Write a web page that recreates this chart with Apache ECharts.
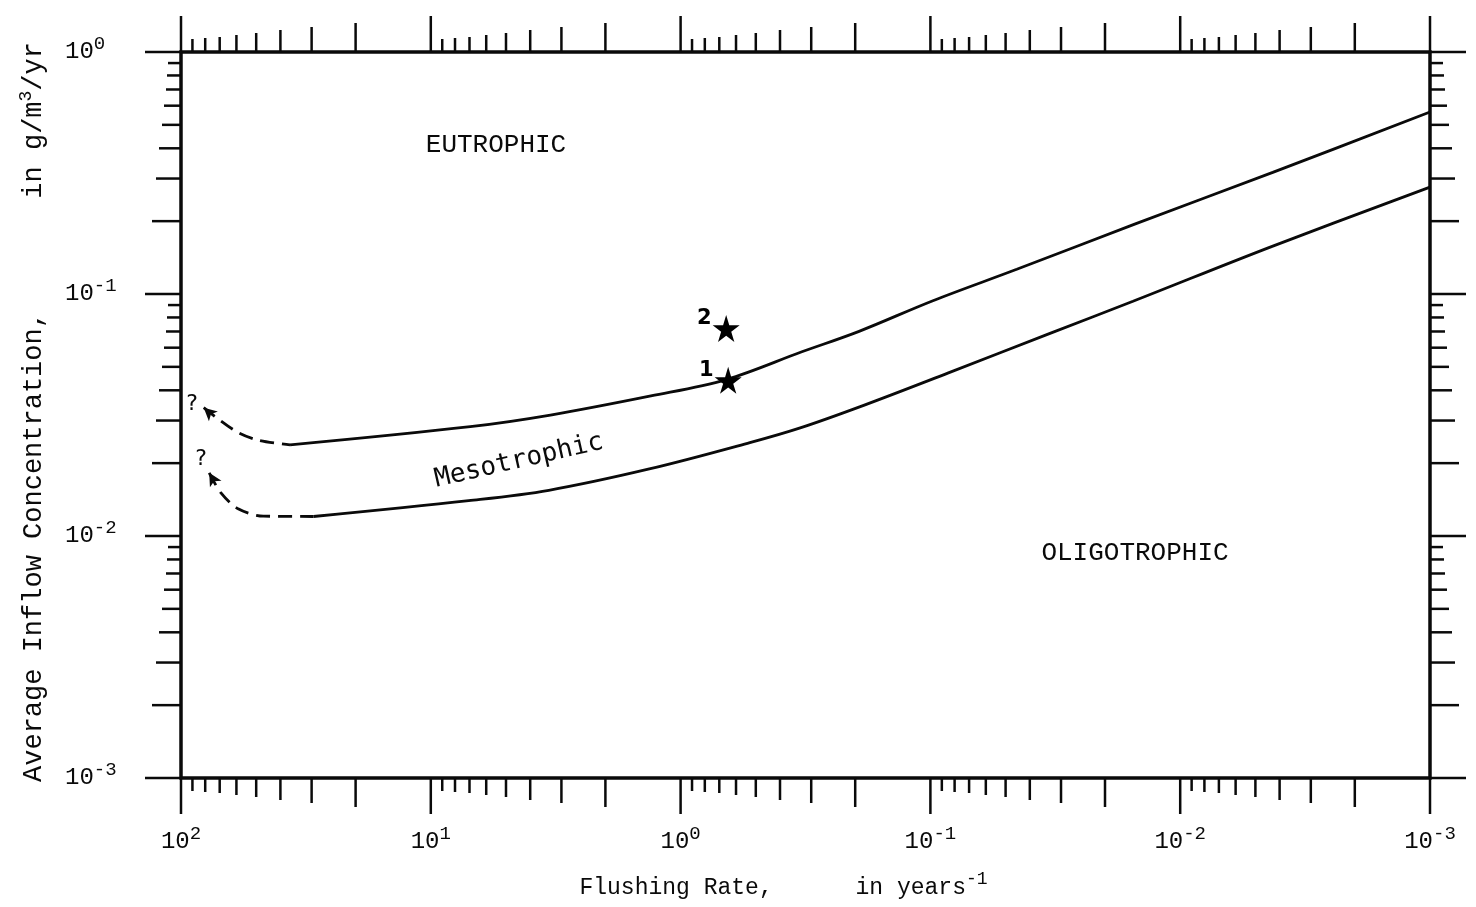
<!DOCTYPE html>
<html><head><meta charset="utf-8">
<script src="https://cdn.jsdelivr.net/npm/echarts@6/dist/echarts.min.js"></script>
<style>html,body{margin:0;padding:0;background:#fff}#chart{width:1476px;height:907px}</style>
</head><body><div id="chart"></div>
<script>
// ---- axis decades and tick labels ----
const xDecades = [100, 10, 1, 0.1, 0.01, 0.001];
const xExponents = ['2', '1', '0', '-1', '-2', '-3'];
const yDecades = [1, 0.1, 0.01, 0.001];
const yExponents = ['0', '-1', '-2', '-3'];
const minorSteps = [2, 3, 4, 5, 6, 7, 8, 9];

// ---- boundary curves (flushing rate, concentration) ----
const upperDashX = [81.1, 60.7, 49.2, 36.6];
const upperDashY = [0.0339, 0.0272, 0.0249, 0.0238];
const upperX = [36.6, 6.95, 3.32, 1.315, 0.657, 0.327, 0.193, 0.0977, 0.0451, 0.01521, 0.00426, 0.001];
const upperY = [0.0238, 0.0283, 0.0316, 0.0379, 0.0443, 0.0577, 0.0701, 0.0938, 0.1265, 0.1944, 0.318, 0.565];
const lowerDashX = [77.1, 69.2, 58.8, 46.8, 29.5];
const lowerDashY = [0.01825, 0.01507, 0.01292, 0.01208, 0.01204];
const lowerX = [29.5, 7.05, 3.37, 1.334, 0.528, 0.332, 0.185, 0.0847, 0.0334, 0.01545, 0.00431, 0.001];
const lowerY = [0.01204, 0.0140, 0.01545, 0.01892, 0.0243, 0.02796, 0.03465, 0.0472, 0.0686, 0.0933, 0.157, 0.2763];

// ---- lakes (stars) ----
const starX = [0.645, 0.657];
const starY = [0.0440, 0.0721];
const starNames = ['1', '2'];

// ---- styles ----
const ink = '#0a0a0a';
const mono = 'Liberation Mono';
const tickLenMajor = 36;
const tickLenMinor = [29, 25, 22, 19, 17, 15, 14, 13];
const arrowRotate = [48, 30];

const zip = (a, b) => a.map((v, i) => [v, b[i]]);

function buildTicks(decades) {
  const lo = Math.min(...decades);
  const out = decades.map(d => [d, tickLenMajor]);
  decades.forEach(d => {
    if (d > lo) minorSteps.forEach((m, i) => out.push([d / 10 * m, tickLenMinor[i]]));
  });
  return out;
}
const xTicks = buildTicks(xDecades);
const yTicks = buildTicks(yDecades);

function expOf(v, decades, exps) {
  let best = 0, bd = Infinity;
  decades.forEach((d, i) => { const e = Math.abs(Math.log10(v) - Math.log10(d)); if (e < bd) { bd = e; best = i; } });
  return exps[best];
}

function tickSeries(side, data) {
  return {
    type: 'custom', silent: true, clip: false, z: 5,
    xAxisIndex: 0, yAxisIndex: 0,
    data: data,
    encode: (side === 'left' || side === 'right') ? { y: 0 } : { x: 0 },
    renderItem: function (params, api) {
      const v = api.value(0), len = api.value(1);
      const cs = params.coordSys;
      let x1, y1, x2, y2;
      if (side === 'bottom' || side === 'top') {
        const px = api.coord([v, 0.01])[0];
        x1 = x2 = px;
        y1 = side === 'bottom' ? cs.y + cs.height : cs.y;
        y2 = side === 'bottom' ? y1 + len : y1 - len;
      } else {
        const py = api.coord([1, v])[1];
        y1 = y2 = py;
        x1 = side === 'left' ? cs.x : cs.x + cs.width;
        x2 = side === 'left' ? x1 - len : x1 + len;
      }
      return { type: 'line', shape: { x1, y1, x2, y2 }, style: { stroke: ink, lineWidth: 2.5 } };
    }
  };
}

const labelRich = {
  b: { fontFamily: mono, fontSize: 24, color: ink, lineHeight: 36 },
  s: { fontFamily: mono, fontSize: 19, color: ink, lineHeight: 16, verticalAlign: 'top' }
};

const chart = echarts.init(document.getElementById('chart'), null, { renderer: 'canvas' });
const option = {
  backgroundColor: '#fff',
  animation: false,
  grid: { left: 181, right: 46, top: 52, bottom: 129, show: true, borderColor: ink, borderWidth: 3.5, backgroundColor: 'transparent' },
  xAxis: {
    type: 'log', logBase: 10, min: 0.001, max: 100, inverse: true,
    axisLine: { show: false }, axisTick: { show: false }, splitLine: { show: false }, minorTick: { show: false },
    axisLabel: {
      margin: 46, showMinLabel: true, showMaxLabel: true,
      formatter: v => '{b|10}{s|' + expOf(v, xDecades, xExponents) + '}',
      rich: labelRich
    },
    name: '{t|Flushing Rate,      in years}{s|-1}',
    nameLocation: 'middle', nameGap: 92,
    nameTextStyle: {
      padding: [0, 44, 0, 0],
      rich: {
        t: { fontFamily: mono, fontSize: 23, color: ink, lineHeight: 36 },
        s: { fontFamily: mono, fontSize: 18, color: ink, lineHeight: 16, verticalAlign: 'top' }
      }
    }
  },
  yAxis: {
    type: 'log', logBase: 10, min: 0.001, max: 1,
    axisLine: { show: false }, axisTick: { show: false }, splitLine: { show: false }, minorTick: { show: false },
    axisLabel: {
      margin: 116, align: 'left', showMinLabel: true, showMaxLabel: true,
      formatter: v => '{b|10}{s|' + expOf(v, yDecades, yExponents) + '}',
      rich: labelRich
    },
    name: '{t|Average Inflow Concentration,       in g/m}{s|3}{t|/yr}',
    nameLocation: 'middle', nameGap: 130,
    nameTextStyle: {
      padding: [0, 0, 0, 6],
      rich: {
        t: { fontFamily: mono, fontSize: 27, color: ink, lineHeight: 34 },
        s: { fontFamily: mono, fontSize: 18, color: ink, lineHeight: 16, verticalAlign: 'top' }
      }
    }
  },
  graphic: [
    { type: 'text', x: 496, y: 145, style: { text: 'EUTROPHIC', fontFamily: mono, fontSize: 26, fill: ink, align: 'center', verticalAlign: 'middle' } },
    { type: 'text', x: 1135, y: 553, style: { text: 'OLIGOTROPHIC', fontFamily: mono, fontSize: 26, fill: ink, align: 'center', verticalAlign: 'middle' } },
    { type: 'text', x: 519, y: 461, rotation: 0.225, style: { text: 'Mesotrophic', fontFamily: 'DejaVu Sans Mono', fontSize: 26, fill: ink, align: 'center', verticalAlign: 'middle' } },
    { type: 'text', x: 192, y: 404, style: { text: '?', fontFamily: 'DejaVu Sans', fontSize: 22, fill: ink, align: 'center', verticalAlign: 'middle' } },
    { type: 'text', x: 201, y: 459, style: { text: '?', fontFamily: 'DejaVu Sans', fontSize: 22, fill: ink, align: 'center', verticalAlign: 'middle' } }
  ],
  series: [
    tickSeries('bottom', xTicks),
    tickSeries('top', xTicks),
    tickSeries('left', yTicks),
    tickSeries('right', yTicks),
    { type: 'line', data: zip(upperDashX, upperDashY), showSymbol: false, smooth: 0.3, lineStyle: { color: ink, width: 2.8, type: [14, 8] } },
    { type: 'line', data: zip(upperX, upperY), showSymbol: false, smooth: 0.35, lineStyle: { color: ink, width: 2.8 } },
    { type: 'line', data: zip(lowerDashX, lowerDashY), showSymbol: false, smooth: 0.3, lineStyle: { color: ink, width: 2.8, type: [14, 8] } },
    { type: 'line', data: zip(lowerX, lowerY), showSymbol: false, smooth: 0.35, lineStyle: { color: ink, width: 2.8 } },
    {
      type: 'scatter', data: [zip(upperDashX, upperDashY)[0], zip(lowerDashX, lowerDashY)[0]],
      symbol: 'arrow', symbolSize: [10, 13], symbolRotate: (v, p) => arrowRotate[p.dataIndex],
      itemStyle: { color: ink, opacity: 1 }, silent: true
    },
    {
      type: 'scatter', data: zip(starX, starY).map((p, i) => ({ value: p, name: starNames[i] })),
      symbol: 'path://M50,0L61,35L98,35L68,57L79,91L50,70L21,91L32,57L2,35L39,35Z',
      symbolSize: 27, itemStyle: { color: '#000', opacity: 1 }, silent: true, z: 6,
      label: { show: true, formatter: p => p.name, position: 'left', distance: 1, offset: [0, -10],
        fontFamily: 'DejaVu Sans', fontWeight: 'bold', fontSize: 21, color: '#000' }
    }
  ]
};
chart.setOption(option);
</script></body></html>
